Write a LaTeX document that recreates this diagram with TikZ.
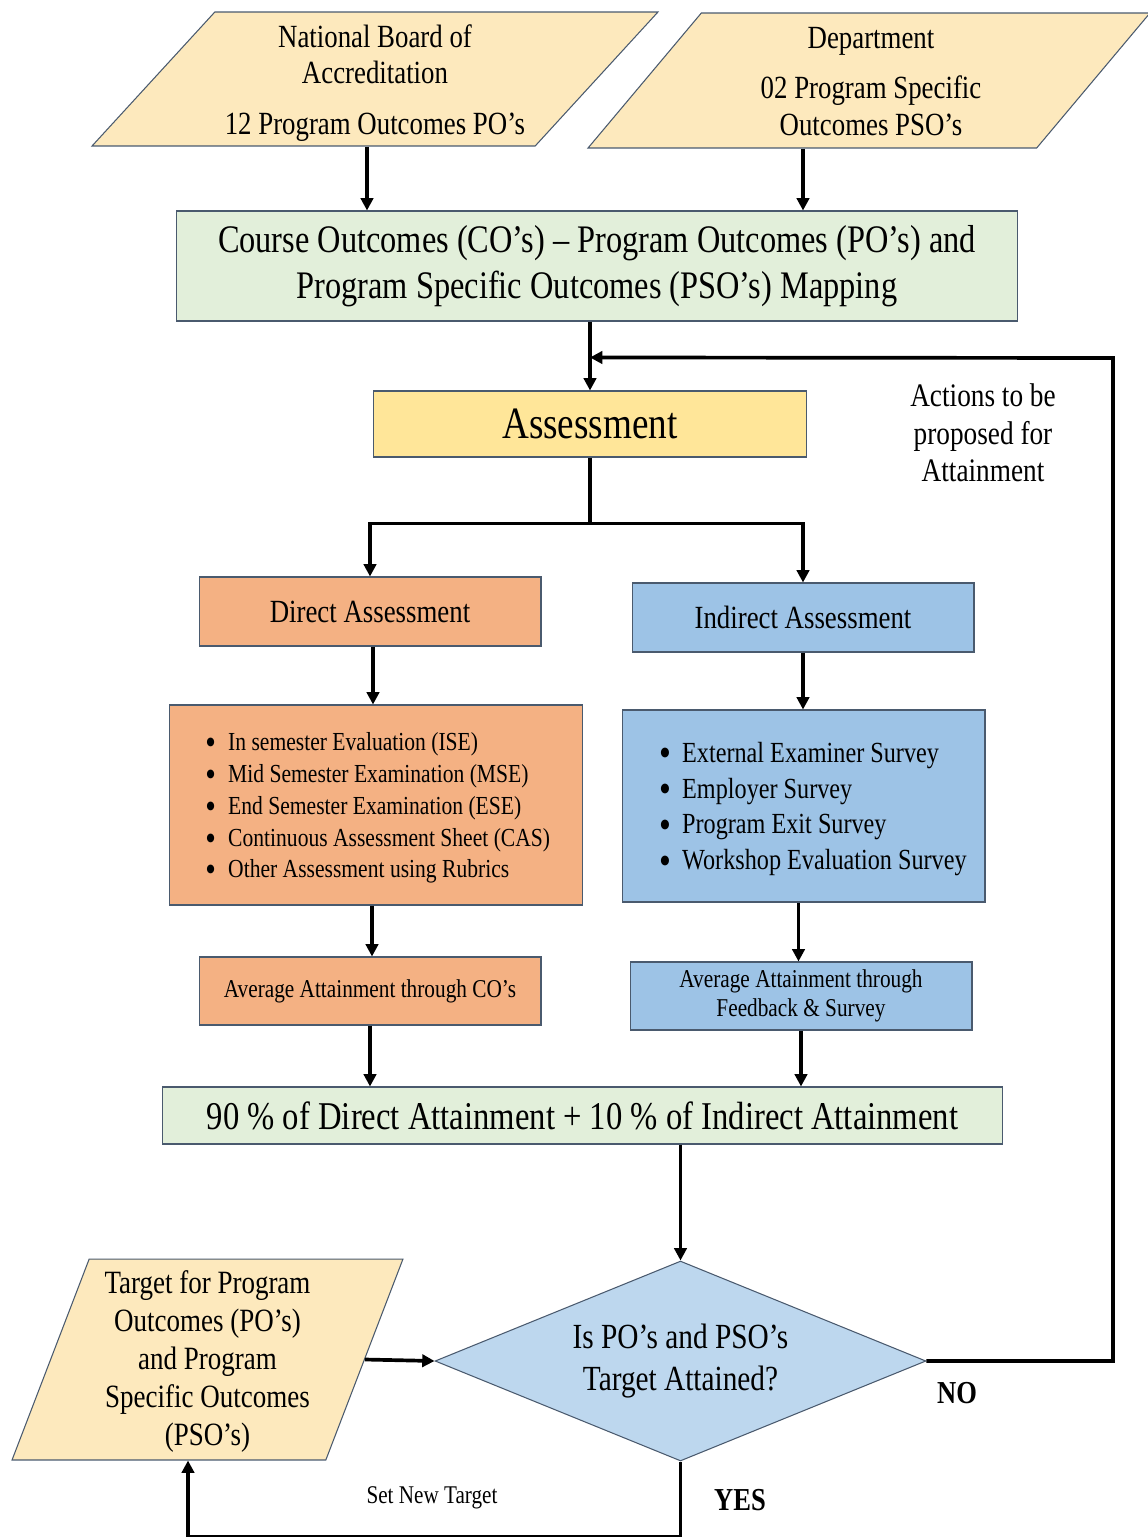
\documentclass[tikz,border=0pt]{standalone}
\usepackage{fontspec}
\setmainfont{Liberation Serif}[FakeStretch=0.83]
\usepackage{tikz}
\usetikzlibrary{arrows.meta,shapes.geometric,calc}

\definecolor{sandcol}{HTML}{FDE9BD}
\definecolor{mintcol}{HTML}{E2EFDA}
\definecolor{goldcol}{HTML}{FFE699}
\definecolor{peachcol}{HTML}{F4B183}
\definecolor{skycol}{HTML}{9DC3E6}
\definecolor{palecol}{HTML}{BDD7EE}
\definecolor{edgecol}{HTML}{4A5A6E}

\newcommand{\fsz}[2]{\fontsize{#1}{#2}\selectfont}
\newcommand{\itm}[1]{\makebox[13pt][l]{\smash{\raisebox{-0.16em}{\scalebox{1.4}{\textbullet}}}}#1}

\tikzset{
  box/.style={draw=edgecol, line width=0.6pt, inner sep=0pt, align=center},
  dataio/.style={box, trapezium, trapezium stretches body, fill=sandcol},
  flow/.style={-{Triangle[length=7pt,width=7pt]}, line width=2.1pt},
  wire/.style={line width=2.1pt}
}

\begin{document}
\begin{tikzpicture}[x=0.02cm,y=-0.02cm]
\useasboundingbox (0,0) rectangle (1148,1537);

  % inputs
  \draw (375,79) node[dataio, trapezium left angle=47.5, trapezium right angle=132.5,
        minimum width=11.32cm, inner ysep=1.34cm] (nba) {};
  \draw ($(nba.center)+(0,4)$) node[align=center, font=\fsz{18.4}{20.4}] (nbatext)
        {National Board of\\Accreditation\\[8.5pt]12 Program Outcomes PO’s};
  \draw (869,80.5) node[dataio, trapezium left angle=50, trapezium right angle=130,
        minimum width=11.24cm, inner ysep=1.35cm] (dep) {};
  \draw ($(dep.center)+(2,1)$) node[align=center, font=\fsz{18.4}{21}] (deptext)
        {Department\\[7.4pt]02 Program Specific\\Outcomes PSO’s};

  % mapping and assessment
  \draw (597,266) node[box, fill=mintcol, minimum width=16.84cm, minimum height=2.2cm, font=\fsz{22.2}{26}] (co)
        {Course Outcomes (CO’s) – Program Outcomes (PO’s) and\\Program Specific Outcomes (PSO’s) Mapping};
  \draw (590,424) node[box, fill=goldcol, minimum width=8.68cm, minimum height=1.32cm, font=\fsz{25.5}{30}] (assess)
        {Assessment};
  \draw (983,433) node[align=center, font=\fsz{18.7}{21.2}] (actions)
        {Actions to be\\proposed for\\Attainment};

  % two branches
  \draw (370,611.5) node[box, fill=peachcol, minimum width=6.84cm, minimum height=1.38cm, font=\fsz{18.4}{21}] (direct)
        {Direct Assessment};
  \draw (803,617.5) node[box, fill=skycol, minimum width=6.84cm, minimum height=1.38cm, font=\fsz{18.4}{21}] (indirect)
        {Indirect Assessment};

  \draw (376,805) node[box, fill=peachcol, minimum width=8.28cm, minimum height=4cm] (dlist) {};
  \draw (205,808) node[anchor=west, inner sep=0pt, align=left, font=\fsz{14.8}{18.1}] (dlisttext)
        {\itm{In semester Evaluation (ISE)}\\\itm{Mid Semester Examination (MSE)}\\
         \itm{End Semester Examination (ESE)}\\\itm{Continuous Assessment Sheet (CAS)}\\
         \itm{Other Assessment using Rubrics}};
  \draw (803.5,806) node[box, fill=skycol, minimum width=7.26cm, minimum height=3.84cm] (ilist) {};
  \draw (659,809) node[anchor=west, inner sep=0pt, align=left, font=\fsz{16.6}{20.4}] (ilisttext)
        {\itm{External Examiner Survey}\\\itm{Employer Survey}\\
         \itm{Program Exit Survey}\\\itm{Workshop Evaluation Survey}};

  \draw (370,991) node[box, fill=peachcol, minimum width=6.84cm, minimum height=1.36cm, font=\fsz{14.6}{16.5}] (avgco)
        {Average Attainment through CO’s};
  \draw (801,996) node[box, fill=skycol, minimum width=6.84cm, minimum height=1.36cm, font=\fsz{14.6}{16.5}] (avgfb)
        {Average Attainment through\\Feedback \& Survey};

  \draw (582.5,1115.5) node[box, fill=mintcol, minimum width=16.82cm, minimum height=1.14cm, font=\fsz{22.4}{26}] (total)
        {90 \% of Direct Attainment + 10 \% of Indirect Attainment};

  % decision
  \draw (680.5,1361) node[box, diamond, aspect=2.45, fill=palecol, minimum width=9.82cm, minimum height=4cm, font=\fsz{20.1}{23.8}] (decide)
        {Is PO’s and PSO’s\\Target Attained?};
  \draw (207.5,1359.5) node[dataio, trapezium left angle=69, trapezium right angle=111,
        minimum width=7.82cm, inner ysep=2.01cm] (target) {};
  \draw ($(target.center)+(0,2)$) node[align=center, font=\fsz{18.5}{21.5}] (targettext)
        {Target for Program\\Outcomes (PO’s)\\and Program\\Specific Outcomes\\(PSO’s)};

  \draw (957,1393) node[font=\fsz{18.2}{20}\bfseries] (no) {NO};
  \draw (740,1500) node[font=\fsz{18.2}{20}\bfseries] (yes) {YES};
  \draw (432,1498) node[font=\fsz{14.5}{16}] (newtgt) {Set New Target};

  \coordinate (join) at ($(assess.north)+(0,-33)$);
  \coordinate (fork) at ($(assess.south)+(0,66)$);
  \coordinate (loopx) at (1113,358);
  \coordinate (floor) at (188,1536.5);
  \coordinate (nbaout) at ($(nba.south)+(-8,0)$);
  \coordinate (depout) at ($(dep.south)+(-66,0)$);
  \coordinate (directout) at ($(direct.south)+(3,0)$);
  \coordinate (dlistout) at ($(dlist.south)+(-4,0)$);
  \coordinate (ilistout) at ($(ilist.south)+(-5,0)$);

  % connectors
  \draw[flow] (nbaout) -- (nbaout |- co.north);
  \draw[flow] (depout) -- (depout |- co.north);
  \draw[flow] (co.south -| assess.north) -- (assess.north);
  \draw[wire] (assess.south) -- (fork);
  \draw[flow] (fork) -| (direct.north);
  \draw[flow] (fork) -| (indirect.north);
  \draw[flow] (directout) -- (directout |- dlist.north);
  \draw[flow] (indirect.south) -- (indirect.south |- ilist.north);
  \draw[flow] (dlistout) -- (dlistout |- avgco.north);
  \draw[flow] (ilistout) -- (ilistout |- avgfb.north);
  \draw[flow] (avgco.south) -- (avgco.south |- total.north);
  \draw[flow] (avgfb.south) -- (avgfb.south |- total.north);
  \draw[flow] (decide.north |- total.south) -- (decide.north);
  \draw[flow] (target.east) -- (decide.west);
  \draw[flow] (decide.east) -| (loopx) -- (join);
  \draw[flow] (decide.south) |- (floor) -- (floor |- target.south);

\end{tikzpicture}
\end{document}
